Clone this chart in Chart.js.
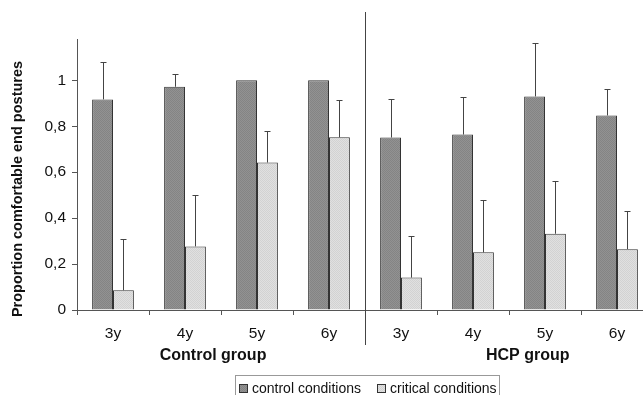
<!DOCTYPE html>
<html>
<head>
<meta charset="utf-8">
<script src="https://cdn.jsdelivr.net/npm/chart.js@4/dist/chart.umd.min.js"></script>
<style>
  html, body { margin: 0; padding: 0; background: #fff; overflow: hidden; }
  #wrap { width: 660px; height: 395px; }
</style>
</head>
<body>
<div id="wrap"><canvas id="c" width="660" height="395"></canvas></div>
<script>
// data
const ageLabels = ["3y", "4y", "5y", "6y", "3y", "4y", "5y", "6y"];
const groupNames = ["Control group", "HCP group"];
const controlCond = [0.917, 0.972, 1.0, 1.0, 0.751, 0.764, 0.930, 0.847];
const controlSd = [0.165, 0.056, 0, 0, 0.166, 0.165, 0.234, 0.114];
const criticalCond = [0.086, 0.277, 0.642, 0.752, 0.141, 0.251, 0.332, 0.265];
const criticalSd = [0.222, 0.225, 0.137, 0.164, 0.180, 0.226, 0.231, 0.164];
const seriesNames = ["control conditions", "critical conditions"];
const yTicks = [0, 0.2, 0.4, 0.6, 0.8, 1];

function dotted(base, dot) {
  const p = document.createElement("canvas");
  p.width = 2; p.height = 2;
  const g = p.getContext("2d");
  g.fillStyle = base; g.fillRect(0, 0, 2, 2);
  g.fillStyle = dot; g.fillRect(0, 0, 1, 1); g.fillRect(1, 1, 1, 1);
  return g.createPattern(p, "repeat");
}
const ctx = document.getElementById("c").getContext("2d");
const darkFill = dotted("#929292", "#848484");
const lightFill = dotted("#e0e0e0", "#d2d2d2");

const errorBars = {
  id: "errorBars",
  afterDatasetsDraw(chart) {
    const g = chart.ctx, y = chart.scales.y;
    const sds = [controlSd, criticalSd];
    g.save();
    g.strokeStyle = "#444";
    g.lineWidth = 1;
    chart.data.datasets.forEach((ds, i) => {
      chart.getDatasetMeta(i).data.forEach((bar, j) => {
        if (!sds[i][j]) return;
        const x = Math.round(bar.x) + 0.5;
        const top = Math.round(y.getPixelForValue(ds.data[j] + sds[i][j])) + 0.5;
        g.beginPath();
        g.moveTo(x, bar.y);
        g.lineTo(x, top);
        g.moveTo(x - 3, top);
        g.lineTo(x + 3, top);
        g.stroke();
      });
    });
    g.restore();
  }
};

const extras = {
  id: "extras",
  afterDraw(chart) {
    const g = chart.ctx, x = chart.scales.x;
    g.save();
    // separator between groups
    const sx = Math.round(x.getPixelForValue(3.5)) + 0.5;
    g.strokeStyle = "#444";
    g.lineWidth = 1;
    g.beginPath();
    g.moveTo(sx, 12);
    g.lineTo(sx, 345);
    g.stroke();
    // group labels
    g.fillStyle = "#111";
    g.font = "bold 16px 'Liberation Sans', Arial, sans-serif";
    g.textAlign = "center";
    g.textBaseline = "middle";
    g.fillText(groupNames[0], x.getPixelForValue(1.39), 356);
    g.fillText(groupNames[1], x.getPixelForValue(5.76), 356);
    // y axis title
    g.save();
    g.translate(18, 189);
    g.rotate(-Math.PI / 2);
    g.font = "bold 14.5px 'Liberation Sans', Arial, sans-serif";
    g.fillText("Proportion comfortable end postures", 0, 0);
    g.restore();
    // legend
    g.strokeStyle = "#999";
    g.strokeRect(235.5, 375.5, 264, 30);
    const fills = [darkFill, lightFill];
    const lx = [237, 375];
    g.font = "14px 'Liberation Sans', Arial, sans-serif";
    g.textAlign = "left";
    seriesNames.forEach((n, i) => {
      g.fillStyle = fills[i];
      g.fillRect(lx[i] + 2, 384, 9, 9);
      g.strokeStyle = "#333";
      g.strokeRect(lx[i] + 2.5, 384.5, 8, 8);
      g.fillStyle = "#111";
      g.fillText(n, lx[i] + 15, 389);
    });
    g.restore();
  }
};

new Chart(ctx, {
  type: "bar",
  data: {
    labels: ageLabels,
    datasets: [
      {
        label: seriesNames[0],
        data: controlCond,
        backgroundColor: darkFill,
        borderColor: "#333",
        borderWidth: 1,
        categoryPercentage: 0.58,
        barPercentage: 1.0,
      },
      {
        label: seriesNames[1],
        data: criticalCond,
        backgroundColor: lightFill,
        borderColor: "#333",
        borderWidth: 1,
        categoryPercentage: 0.58,
        barPercentage: 1.0,
      },
    ],
  },
  options: {
    responsive: false,
    animation: false,
    layout: { padding: { top: 39, right: 7, left: 0, bottom: 0 } },
    plugins: {
      legend: { display: false },
      tooltip: { enabled: false },
    },
    scales: {
      x: {
        afterFit: (s) => { s.height = 85; },
        grid: { drawOnChartArea: false, tickLength: 5, color: "#555", offset: true },
        border: { color: "#555" },
        ticks: {
          color: "#111",
          padding: 9,
          font: { family: "'Liberation Sans', Arial, sans-serif", size: 15.5 },
        },
      },
      y: {
        min: 0,
        max: 1.18,
        afterFit: (s) => { s.width = 77; },
        afterBuildTicks: (s) => { s.ticks = yTicks.map((v) => ({ value: v })); },
        grid: { drawOnChartArea: false, tickLength: 5, color: "#555" },
        border: { color: "#555" },
        ticks: {
          color: "#111",
          padding: 6,
          font: { family: "'Liberation Sans', Arial, sans-serif", size: 15.5 },
          callback: (v) => String(v).replace(".", ","),
        },
      },
    },
  },
  plugins: [errorBars, extras],
});
</script>
</body>
</html>
